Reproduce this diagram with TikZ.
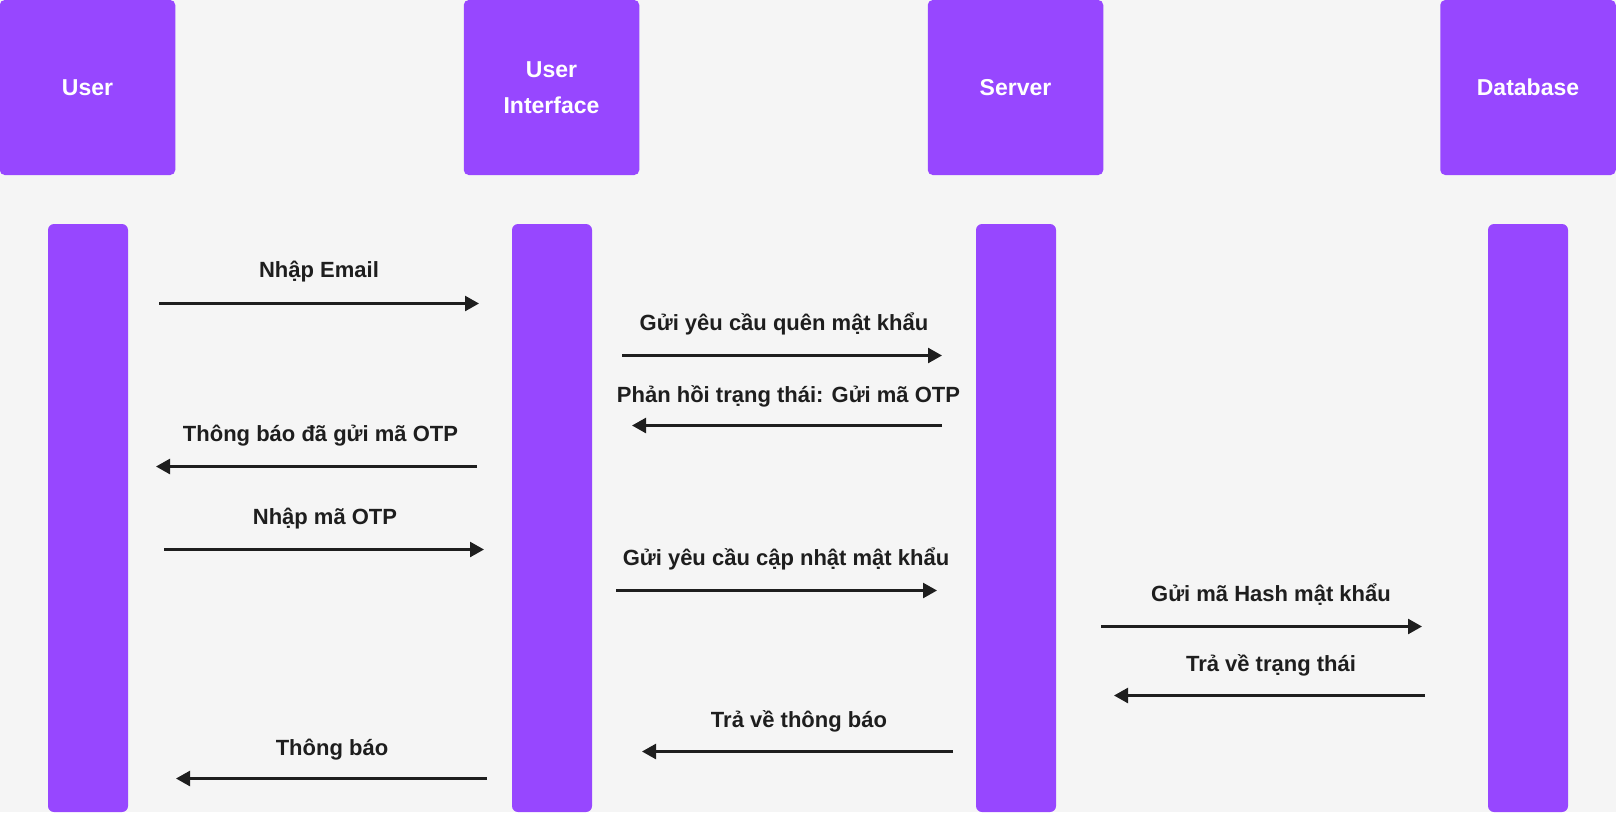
\documentclass[tikz,border=0pt]{standalone}
\usepackage{fontspec}
\setmainfont{Liberation Sans}
\usetikzlibrary{arrows.meta}
\definecolor{purp}{HTML}{9747FF}
\definecolor{bgc}{HTML}{F5F5F5}
\definecolor{ink}{HTML}{1E1E1E}
\begin{document}
\begin{tikzpicture}[x=1pt,y=-1pt,
  actor/.style={fill=purp, rounded corners=5pt, draw=none, minimum width=175.5pt, minimum height=175pt,
    text=white, font=\fontsize{23}{36}\selectfont\bfseries, align=center, inner sep=0pt},
  life/.style={fill=purp, rounded corners=6pt, draw=none, minimum width=80pt, minimum height=588pt, inner sep=0pt},
  msg/.style={draw=ink, line width=2.5pt, -{Triangle[length=14pt,width=15pt]}},
  lbl/.style={text=ink, font=\fontsize{22}{24}\selectfont\bfseries, anchor=base, inner sep=0pt}]
\fill[bgc] (0,0) rectangle (1616,812);
\useasboundingbox (0,0) rectangle (1616,812);
% actors
\node[actor] (user) at (87.5,87.5) {User};
\node[actor] (ui) at (551.5,87.5) {User\\Interface};
\node[actor] (server) at (1015.5,87.5) {Server};
\node[actor] (db) at (1528,87.5) {Database};
% lifelines
\node[life] (luser) at (88,518) {};
\node[life] (lui) at (552,518) {};
\node[life] (lserver) at (1016,518) {};
\node[life] (ldb) at (1528,518) {};
% message end points
\coordinate (a1s) at (159,303.5);  \coordinate (a1e) at (479,303.5);
\coordinate (a2s) at (622,355.5);  \coordinate (a2e) at (942,355.5);
\coordinate (a3s) at (942,425.5);  \coordinate (a3e) at (632,425.5);
\coordinate (a4s) at (477,466.5);  \coordinate (a4e) at (156,466.5);
\coordinate (a5s) at (164,549.5);  \coordinate (a5e) at (484,549.5);
\coordinate (a6s) at (616,590.5);  \coordinate (a6e) at (937,590.5);
\coordinate (a7s) at (1101,626.5); \coordinate (a7e) at (1422,626.5);
\coordinate (a8s) at (1425,695.5); \coordinate (a8e) at (1114,695.5);
\coordinate (a9s) at (953,751.5);  \coordinate (a9e) at (642,751.5);
\coordinate (a10s) at (487,778.5); \coordinate (a10e) at (176,778.5);
% messages
\draw[msg] (a1s) -- (a1e);
\draw[msg] (a2s) -- (a2e);
\draw[msg] (a3s) -- (a3e);
\draw[msg] (a4s) -- (a4e);
\draw[msg] (a5s) -- (a5e);
\draw[msg] (a6s) -- (a6e);
\draw[msg] (a7s) -- (a7e);
\draw[msg] (a8s) -- (a8e);
\draw[msg] (a9s) -- (a9e);
\draw[msg] (a10s) -- (a10e);
% labels
\node[lbl] (l1) at (319,277) {Nhập Email};
\node[lbl] (l2) at (784,330) {Gửi yêu cầu quên mật khẩu};
\node[lbl] (l3) at (788.5,402) {Phản hồi trạng thái: Gửi mã OTP};
\node[lbl] (l4) at (320.5,441.5) {Thông báo đã gửi mã OTP};
\node[lbl] (l5) at (325,524) {Nhập mã OTP};
\node[lbl] (l6) at (786,565) {Gửi yêu cầu cập nhật mật khẩu};
\node[lbl] (l7) at (1271,601) {Gửi mã Hash mật khẩu};
\node[lbl] (l8) at (1271,671.5) {Trả về trạng thái};
\node[lbl] (l9) at (799,727.5) {Trả về thông báo};
\node[lbl] (l10) at (332,755) {Thông báo};
\end{tikzpicture}
\end{document}
